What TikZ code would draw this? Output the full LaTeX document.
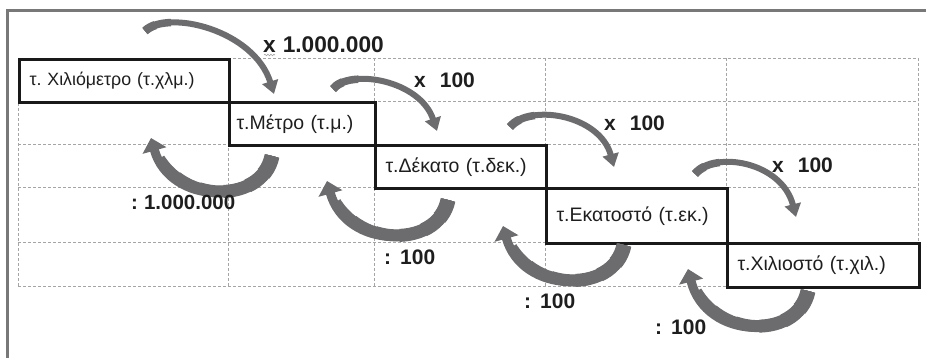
\documentclass[tikz,border=0pt]{standalone}
\usepackage{fontspec}
\setmainfont{Liberation Sans}
\frenchspacing
\usetikzlibrary{arrows.meta,decorations.pathmorphing}
\definecolor{arrowgray}{RGB}{108,108,110}
\definecolor{framegray}{RGB}{120,120,120}
\definecolor{gridgray}{RGB}{165,165,165}
\definecolor{textdark}{RGB}{30,30,30}
\tikzset{
  gridline/.style={draw=gridgray,line width=0.7pt,dash pattern=on 3pt off 2pt},
  unitbox/.style={draw=black!90,line width=3pt,rectangle,anchor=north west,inner xsep=10pt,inner ysep=0pt,
    align=left,font=\fontsize{19.5}{22}\selectfont,text=textdark},
  oplabel/.style={font=\bfseries\fontsize{21}{25}\selectfont,text=textdark,inner sep=0pt,anchor=west},
  toparrow/.style={draw=arrowgray,line width=6pt,-{Triangle[width=16pt,length=13pt]}},
  botarrow/.style={draw=arrowgray,line width=9pt,-{Triangle[width=24pt,length=13pt]}},
}
\newcommand\taperpath[2]{%
  \foreach \w/\l in {#1} {\draw[arrowgray,line width=\w pt,dash pattern=on \l pt off 3000pt] #2;}%
}
\begin{document}
\begin{tikzpicture}[x=1pt,y=-1pt]
\useasboundingbox (0,0) rectangle (926,358);
% frame
\draw[framegray,line width=3pt] (7.5,358) -- (7.5,10.5) -- (926,10.5);
% dashed grid
\foreach \yy in {58,101,144,187,242,286} \draw[gridline] (18,\yy) -- (918,\yy);
\foreach \xx in {18,228,374,545,726,918} \draw[gridline] (\xx,58) -- (\xx,286);
% unit boxes
\node[unitbox,minimum width=210pt,minimum height=43pt,text width=190pt,font=\fontsize{17.8}{21}\selectfont] (km) at (18,58) {τ. Χιλιόμετρο (τ.χλμ.)};
\node[unitbox,minimum width=146pt,minimum height=43pt,inner xsep=7pt,text width=132pt] (m) at (228,101) {τ.Μέτρο (τ.μ.)};
\node[unitbox,minimum width=171pt,minimum height=43pt,text width=151pt] (dm) at (374,144) {τ.Δέκατο (τ.δεκ.)};
\node[unitbox,minimum width=181pt,minimum height=55pt,text width=161pt] (cm) at (545,187) {τ.Εκατοστό (τ.εκ.)};
\node[unitbox,minimum width=192pt,minimum height=44pt,text width=172pt] (mm) at (726,242) {τ.Χιλιοστό (τ.χιλ.)};
% multiply arrows
\def\pa{(145,31) .. controls (168,9) and (254,30) .. (274,94)}
\def\pb{(333,89) .. controls (350,68) and (420,80) .. (437,131)}
\def\pc{(510,127) .. controls (530,103) and (600,115) .. (614,167)}
\def\pd{(695,174) .. controls (715,150) and (782,162) .. (796,217)}
\foreach \p in {\pa,\pb,\pc,\pd} {
  \draw[toparrow] \p;
  \taperpath{8.5/12,7.5/28}{\p}
}
% divide arrows
\def\qa{(272,156) .. controls (262,206) and (170,206) .. (151,138)}
\def\qb{(448,200) .. controls (438,250) and (346,250) .. (327,181)}
\def\qc{(624,245) .. controls (614,295) and (522,295) .. (503,226)}
\def\qd{(808,291) .. controls (798,341) and (706,341) .. (688,269)}
\foreach \p in {\qa,\qb,\qc,\qd} {
  \draw[botarrow] \p;
  \taperpath{15/20,14/40,13/65,12/90,11/115,10/140}{\p}
}
% labels
\node[oplabel,font=\bfseries\fontsize{22.7}{26}\selectfont] (mul1) at (263,44.5) {x\hspace{7pt}1.000.000};
\draw[gridgray,line width=0.6pt,decorate,decoration={snake,amplitude=0.8pt,segment length=3pt}] (264,55) -- (275,55);
\node[oplabel] (mul2) at (414,80) {x\hspace{14pt}100};
\node[oplabel] (mul3) at (604,123.5) {x\hspace{14pt}100};
\node[oplabel] (mul4) at (772,165) {x\hspace{14pt}100};
\node[oplabel,font=\bfseries\fontsize{20.5}{25}\selectfont] (div1) at (131,202.5) {:\hspace{6pt}1.000.000};
\node[oplabel] (div2) at (384,257) {:\hspace{9pt}100};
\node[oplabel] (div3) at (524,301.5) {:\hspace{9pt}100};
\node[oplabel] (div4) at (655,327.5) {:\hspace{9pt}100};
\end{tikzpicture}
\end{document}
